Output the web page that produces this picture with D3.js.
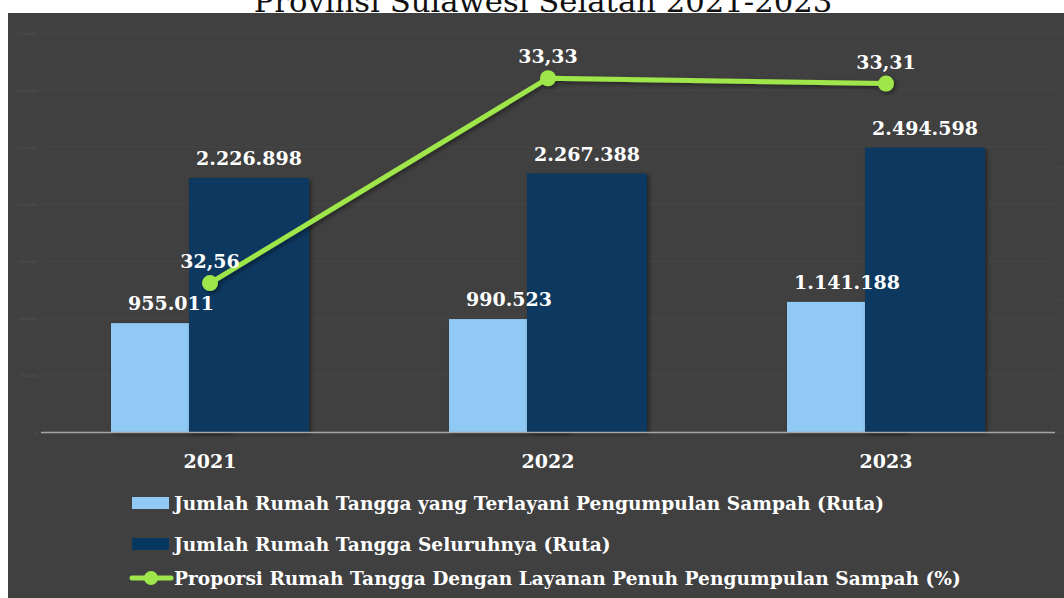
<!DOCTYPE html>
<html>
<head>
<meta charset="utf-8">
<script src="https://cdn.jsdelivr.net/npm/d3@7"></script>
<style>
  html, body { margin: 0; padding: 0; background: #ffffff; }
  svg { display: block; }
</style>
</head>
<body>
<svg id="chart" width="1064" height="598"></svg>
<script>
// ---- data ----
const years = ["2021", "2022", "2023"];
const terlayani = [955011, 990523, 1141188];
const seluruhnya = [2226898, 2267388, 2494598];
const proporsi = [32.56, 33.33, 33.31];
const terlayaniLabels = ["955.011", "990.523", "1.141.188"];
const seluruhnyaLabels = ["2.226.898", "2.267.388", "2.494.598"];
const proporsiLabels = ["32,56", "33,33", "33,31"];
const leftTicks = [0, 500000, 1000000, 1500000, 2000000, 2500000, 3000000, 3500000];
const rightTicks = [32, 32.5, 33, 33.5];
const legendNames = [
  "Jumlah Rumah Tangga yang Terlayani Pengumpulan Sampah (Ruta)",
  "Jumlah Rumah Tangga Seluruhnya (Ruta)",
  "Proporsi Rumah Tangga Dengan Layanan Penuh Pengumpulan Sampah (%)"
];
const titleText = "Provinsi Sulawesi Selatan 2021-2023";

// ---- styles ----
const C_BG = "#404040", C_LIGHT = "#90c9f4", C_DARK = "#07375f", C_GREEN = "#9ee649";
const SERIF = "'DejaVu Serif', 'Liberation Serif', serif";

const svg = d3.select("#chart");
const defs = svg.append("defs");
const sh = defs.append("filter").attr("id", "shadow").attr("x", "-20%").attr("y", "-20%").attr("width", "140%").attr("height", "140%");
sh.append("feDropShadow").attr("dx", 2).attr("dy", 2).attr("stdDeviation", 2).attr("flood-color", "#000").attr("flood-opacity", 0.45);

// title (cut off by the chart panel, as in the reference)
svg.append("text").attr("x", 543).attr("y", 12).attr("text-anchor", "middle")
  .attr("font-family", SERIF).attr("font-size", 30.7).attr("fill", "#111")
  .text(titleText);

// panel
svg.append("rect").attr("x", 8).attr("y", 13).attr("width", 1056).attr("height", 585).attr("fill", C_BG);

// scales
const x = d3.scaleBand().domain(years).range([41, 1055]).padding(0);
const y = d3.scaleLinear().domain([0, 3500000]).range([432, 33]);
const y2 = d3.scaleLinear().domain([32, 33.5]).range([432, 33]);
const barW = 120, offset = 78;
const cx = d => x(d) + x.bandwidth() / 2;

// gridlines + faint tick labels
svg.append("g").selectAll("line").data(leftTicks.slice(1)).join("line")
  .attr("x1", 41).attr("x2", 1055).attr("y1", d => y(d)).attr("y2", d => y(d))
  .attr("stroke", "#474747").attr("stroke-width", 1);
svg.append("g").selectAll("text").data(leftTicks).join("text")
  .attr("x", 37).attr("y", d => y(d) + 1.5).attr("text-anchor", "end")
  .attr("font-family", SERIF).attr("font-size", 4).attr("fill", "#565656")
  .text(d => d3.format(",")(d).replace(/,/g, "."));
svg.append("g").selectAll("text").data(rightTicks).join("text")
  .attr("x", 1062).attr("y", d => y2(d) + 1.5).attr("text-anchor", "end")
  .attr("font-family", SERIF).attr("font-size", 3).attr("fill", "#565656")
  .text(d => d.toFixed(1).replace(".", ","));

// bars
const gBars = svg.append("g");
gBars.selectAll("rect.l").data(years).join("rect").attr("class", "l")
  .attr("x", d => cx(d) - 99).attr("width", barW)
  .attr("y", (d, i) => y(terlayani[i])).attr("height", (d, i) => y(0) - y(terlayani[i]))
  .attr("fill", C_LIGHT).attr("filter", "url(#shadow)");
gBars.selectAll("rect.d").data(years).join("rect").attr("class", "d")
  .attr("x", d => cx(d) - 99 + offset).attr("width", barW)
  .attr("y", (d, i) => y(seluruhnya[i])).attr("height", (d, i) => y(0) - y(seluruhnya[i]))
  .attr("fill", C_DARK).attr("filter", "url(#shadow)");

// axis baseline
svg.append("line").attr("x1", 41).attr("x2", 1055).attr("y1", 432.5).attr("y2", 432.5)
  .attr("stroke", "#a6a6a6").attr("stroke-width", 1.5);

const labelStyle = s => s.attr("font-family", SERIF).attr("font-weight", "bold")
  .attr("font-size", 19).attr("fill", "#ffffff").attr("text-anchor", "middle");

// bar labels
svg.append("g").selectAll("text").data(years).join("text")
  .attr("x", d => cx(d) - 99 + barW / 2).attr("y", (d, i) => y(terlayani[i]) - 13)
  .call(labelStyle).text((d, i) => terlayaniLabels[i]);
svg.append("g").selectAll("text").data(years).join("text")
  .attr("x", d => cx(d) - 99 + offset + barW / 2).attr("y", (d, i) => y(seluruhnya[i]) - 13)
  .call(labelStyle).text((d, i) => seluruhnyaLabels[i]);

// line
const line = d3.line().x((d, i) => cx(years[i])).y(d => y2(d));
const gLine = svg.append("g").attr("filter", "url(#shadow)");
gLine.append("path").datum(proporsi).attr("d", line)
  .attr("fill", "none").attr("stroke", C_GREEN).attr("stroke-width", 5).attr("stroke-linecap", "round");
gLine.selectAll("circle").data(proporsi).join("circle")
  .attr("cx", (d, i) => cx(years[i])).attr("cy", d => y2(d)).attr("r", 8).attr("fill", C_GREEN);
svg.append("g").selectAll("text").data(proporsi).join("text")
  .attr("x", (d, i) => cx(years[i])).attr("y", d => y2(d) - 15)
  .call(labelStyle).text((d, i) => proporsiLabels[i]);

// category labels
svg.append("g").selectAll("text").data(years).join("text")
  .attr("x", d => cx(d)).attr("y", 468).call(labelStyle).text(d => d);

// legend
const legY = [503, 544, 578];
const lg = svg.append("g");
lg.append("rect").attr("x", 132).attr("y", legY[0] - 6).attr("width", 37).attr("height", 12).attr("fill", C_LIGHT);
lg.append("rect").attr("x", 132).attr("y", legY[1] - 6).attr("width", 37).attr("height", 12).attr("fill", C_DARK);
lg.append("line").attr("x1", 132).attr("x2", 171).attr("y1", legY[2]).attr("y2", legY[2])
  .attr("stroke", C_GREEN).attr("stroke-width", 5).attr("stroke-linecap", "round");
lg.append("circle").attr("cx", 151).attr("cy", legY[2]).attr("r", 7).attr("fill", C_GREEN);
lg.selectAll("text").data(legendNames).join("text")
  .attr("x", 174).attr("y", (d, i) => legY[i] + 7)
  .attr("font-family", SERIF).attr("font-weight", "bold").attr("font-size", 18.6)
  .attr("fill", "#ffffff").text(d => d);
</script>
</body>
</html>
